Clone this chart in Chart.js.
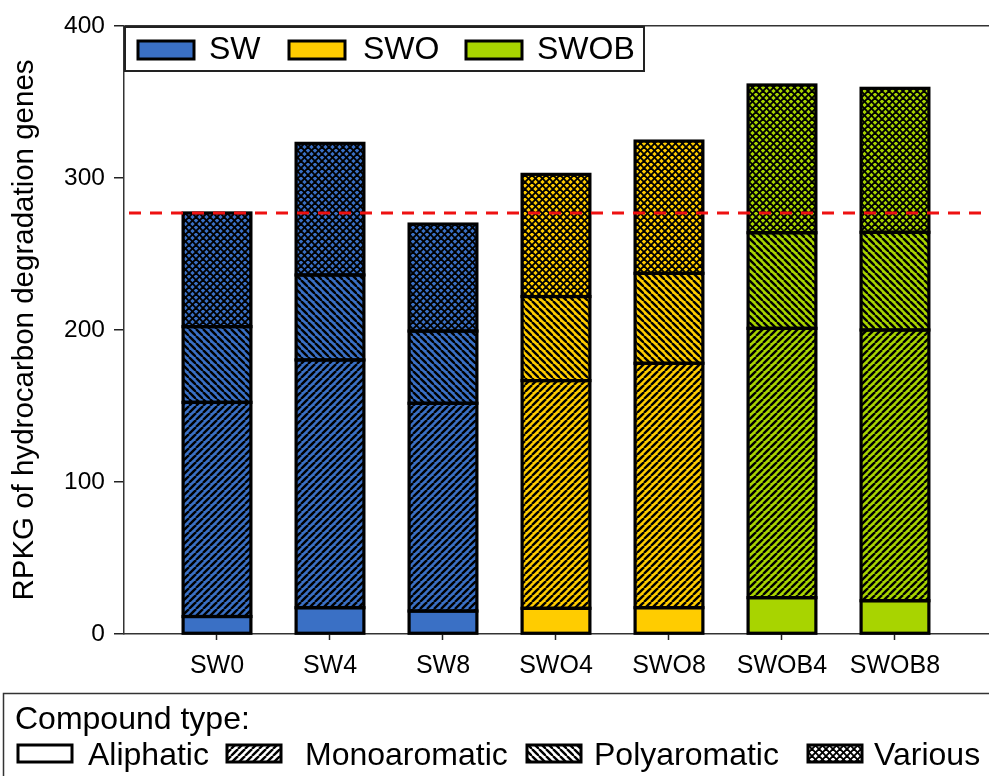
<!DOCTYPE html>
<html>
<head>
<meta charset="utf-8">
<title>RPKG of hydrocarbon degradation genes</title>
<script src="https://cdn.jsdelivr.net/npm/chart.js@4.4.1/dist/chart.umd.min.js"></script>
<style>
  html, body { margin: 0; padding: 0; background: #ffffff; }
  #wrap { width: 989px; height: 776px; }
</style>
</head>
<body>
<div id="wrap"><canvas id="chart" width="989" height="776"></canvas></div>
<script>
// ---- data ----
const categories = ['SW0', 'SW4', 'SW8', 'SWO4', 'SWO8', 'SWOB4', 'SWOB8'];
const treatmentOf = ['SW', 'SW', 'SW', 'SWO', 'SWO', 'SWOB', 'SWOB'];
const treatments = ['SW', 'SWO', 'SWOB'];
const compoundTypes = ['Aliphatic', 'Monoaromatic', 'Polyaromatic', 'Various'];
const aliphatic    = [11.5, 17.3, 15.1, 16.9, 17.3, 23.9, 21.9];
const monoaromatic = [140.9, 163.0, 136.7, 149.8, 160.8, 177.2, 178.1];
const polyaromatic = [49.8, 55.9, 47.5, 55.3, 59.2, 62.9, 64.3];
const various      = [74.8, 86.6, 70.4, 80.4, 87.0, 97.2, 94.7];
const referenceLevel = 277;
const yTickValues = [0, 100, 200, 300, 400];

// ---- styles ----
const treatmentColor = { SW: '#3a70c5', SWO: '#ffcc00', SWOB: '#a8d400' };
const hatchOf = { Aliphatic: 'plain', Monoaromatic: 'fwd', Polyaromatic: 'back', Various: 'cross' };
const FONT = "'Liberation Sans', Arial, Helvetica, sans-serif";

const canvas = document.getElementById('chart');
const mainCtx = canvas.getContext('2d');

// hatched fill: colour background with black diagonal lines
function makeFill(color, hatch) {
  if (hatch === 'plain') return color;
  const s = 7;
  const c = document.createElement('canvas');
  c.width = s; c.height = s;
  const g = c.getContext('2d');
  g.fillStyle = color;
  g.fillRect(0, 0, s, s);
  g.strokeStyle = '#000';
  g.lineWidth = hatch === 'cross' ? 1.9 : 2.4;
  const fwd = () => { for (let k = -1; k <= 1; k++) { g.beginPath(); g.moveTo(k * s, s); g.lineTo(k * s + s, 0); g.stroke(); } };
  const back = () => { for (let k = -1; k <= 1; k++) { g.beginPath(); g.moveTo(k * s, 0); g.lineTo(k * s + s, s); g.stroke(); } };
  if (hatch === 'fwd' || hatch === 'cross') fwd();
  if (hatch === 'back' || hatch === 'cross') back();
  return mainCtx.createPattern(c, 'repeat');
}

const seriesValues = { Aliphatic: aliphatic, Monoaromatic: monoaromatic, Polyaromatic: polyaromatic, Various: various };

const datasets = compoundTypes.map(type => ({
  label: type,
  data: seriesValues[type].map((v, k) => ({ x: k, y: v })),
  backgroundColor: treatmentOf.map(t => makeFill(treatmentColor[t], hatchOf[type])),
  borderWidth: 0,
  barPercentage: 0.6,
  categoryPercentage: 1.0
}));

// segment outlines, dashed reference line, title and both legends
const decorations = {
  id: 'decorations',
  afterDatasetsDraw(chart) {
    const { ctx, chartArea, scales } = chart;
    ctx.save();
    ctx.strokeStyle = '#000';
    ctx.lineWidth = 3.2;
    ctx.lineJoin = 'miter';
    chart.data.datasets.forEach((ds, di) => {
      chart.getDatasetMeta(di).data.forEach(el => {
        const { x, y, base, width } = el.getProps(['x', 'y', 'base', 'width'], true);
        const top = Math.min(y, base);
        ctx.strokeRect(x - width / 2, top, width, Math.abs(base - y));
      });
    });
    ctx.restore();

    const yRef = scales.y.getPixelForValue(referenceLevel);
    ctx.save();
    ctx.strokeStyle = '#ee1111';
    ctx.lineWidth = 3;
    ctx.setLineDash([12, 9]);
    ctx.lineDashOffset = -4;
    ctx.beginPath();
    ctx.moveTo(chartArea.left + 1, yRef);
    ctx.lineTo(chartArea.right, yRef);
    ctx.stroke();
    ctx.restore();
  },
  afterDraw(chart) {
    const { ctx, chartArea } = chart;
    ctx.save();
    // y-axis title
    ctx.translate(25, (chartArea.top + chartArea.bottom) / 2);
    ctx.rotate(-Math.PI / 2);
    ctx.fillStyle = '#000';
    ctx.font = `29.5px ${FONT}`;
    ctx.textAlign = 'center';
    ctx.textBaseline = 'middle';
    ctx.fillText('RPKG of hydrocarbon degradation genes', 0, 0);
    ctx.restore();

    // treatment legend (top)
    ctx.save();
    ctx.strokeStyle = '#222';
    ctx.lineWidth = 2;
    ctx.fillStyle = '#fff';
    ctx.fillRect(125, 27, 519, 44);
    ctx.strokeRect(125, 27, 519, 44);
    const topItems = [
      { swatch: 138, text: 209 },
      { swatch: 289, text: 363 },
      { swatch: 466, text: 537 }
    ];
    ctx.font = `32px ${FONT}`;
    ctx.textBaseline = 'middle';
    ctx.textAlign = 'left';
    treatments.forEach((t, i) => {
      const it = topItems[i];
      ctx.fillStyle = treatmentColor[t];
      ctx.fillRect(it.swatch, 41, 56, 18);
      ctx.lineWidth = 3;
      ctx.strokeStyle = '#000';
      ctx.strokeRect(it.swatch, 41, 56, 18);
      ctx.fillStyle = '#000';
      ctx.fillText(t, it.text, 50);
    });
    ctx.restore();

    // compound type legend (bottom)
    ctx.save();
    ctx.strokeStyle = '#333';
    ctx.lineWidth = 1.5;
    ctx.strokeRect(3.5, 693.5, 1000, 100);
    ctx.fillStyle = '#000';
    ctx.font = `32px ${FONT}`;
    ctx.textAlign = 'left';
    ctx.textBaseline = 'alphabetic';
    ctx.fillText('Compound type:', 15, 729);
    const bottomItems = [
      { swatch: 18, text: 88 },
      { swatch: 227, text: 305 },
      { swatch: 527, text: 594 },
      { swatch: 808, text: 874 }
    ];
    compoundTypes.forEach((type, i) => {
      const it = bottomItems[i];
      ctx.fillStyle = makeFill('#ffffff', hatchOf[type]);
      ctx.fillRect(it.swatch, 745, 54, 17);
      ctx.lineWidth = 3;
      ctx.strokeStyle = '#000';
      ctx.strokeRect(it.swatch, 745, 54, 17);
      ctx.fillStyle = '#000';
      ctx.fillText(type, it.text, 765);
    });
    ctx.restore();
  }
};

new Chart(canvas, {
  type: 'bar',
  data: { datasets },
  options: {
    responsive: false,
    animation: false,
    events: [],
    layout: { padding: { top: 26, right: 0, left: 0, bottom: 0 } },
    plugins: { legend: { display: false }, tooltip: { enabled: false }, title: { display: false } },
    scales: {
      x: {
        type: 'linear',
        stacked: true,
        offset: false,
        min: -0.823,
        max: 6.832,
        afterFit: s => { s.height = 142; },
        afterBuildTicks: s => { s.ticks = categories.map((c, k) => ({ value: k })); },
        ticks: {
          autoSkip: false,
          maxRotation: 0,
          padding: 11,
          color: '#000',
          font: { family: FONT, size: 25 },
          callback: v => categories[v] ?? ''
        },
        grid: { offset: false, drawOnChartArea: false, drawTicks: true, tickLength: 6, tickColor: '#222', tickWidth: 1.5 },
        border: { display: true, color: '#333', width: 1.5 }
      },
      y: {
        stacked: true,
        min: 0,
        max: 400,
        afterFit: s => { s.width = 124; },
        afterBuildTicks: s => { s.ticks = yTickValues.map(v => ({ value: v })); },
        ticks: {
          padding: 9,
          color: '#000',
          font: { family: FONT, size: 24.5 }
        },
        grid: {
          drawOnChartArea: true,
          drawTicks: true,
          tickLength: 10,
          lineWidth: 1.5,
          color: c => (c.tick && c.tick.value === 400 ? '#333' : 'rgba(0,0,0,0)'),
          tickColor: '#222',
          tickWidth: 1.5
        },
        border: { display: true, color: '#333', width: 1.5 }
      }
    }
  },
  plugins: [decorations]
});
</script>
</body>
</html>
